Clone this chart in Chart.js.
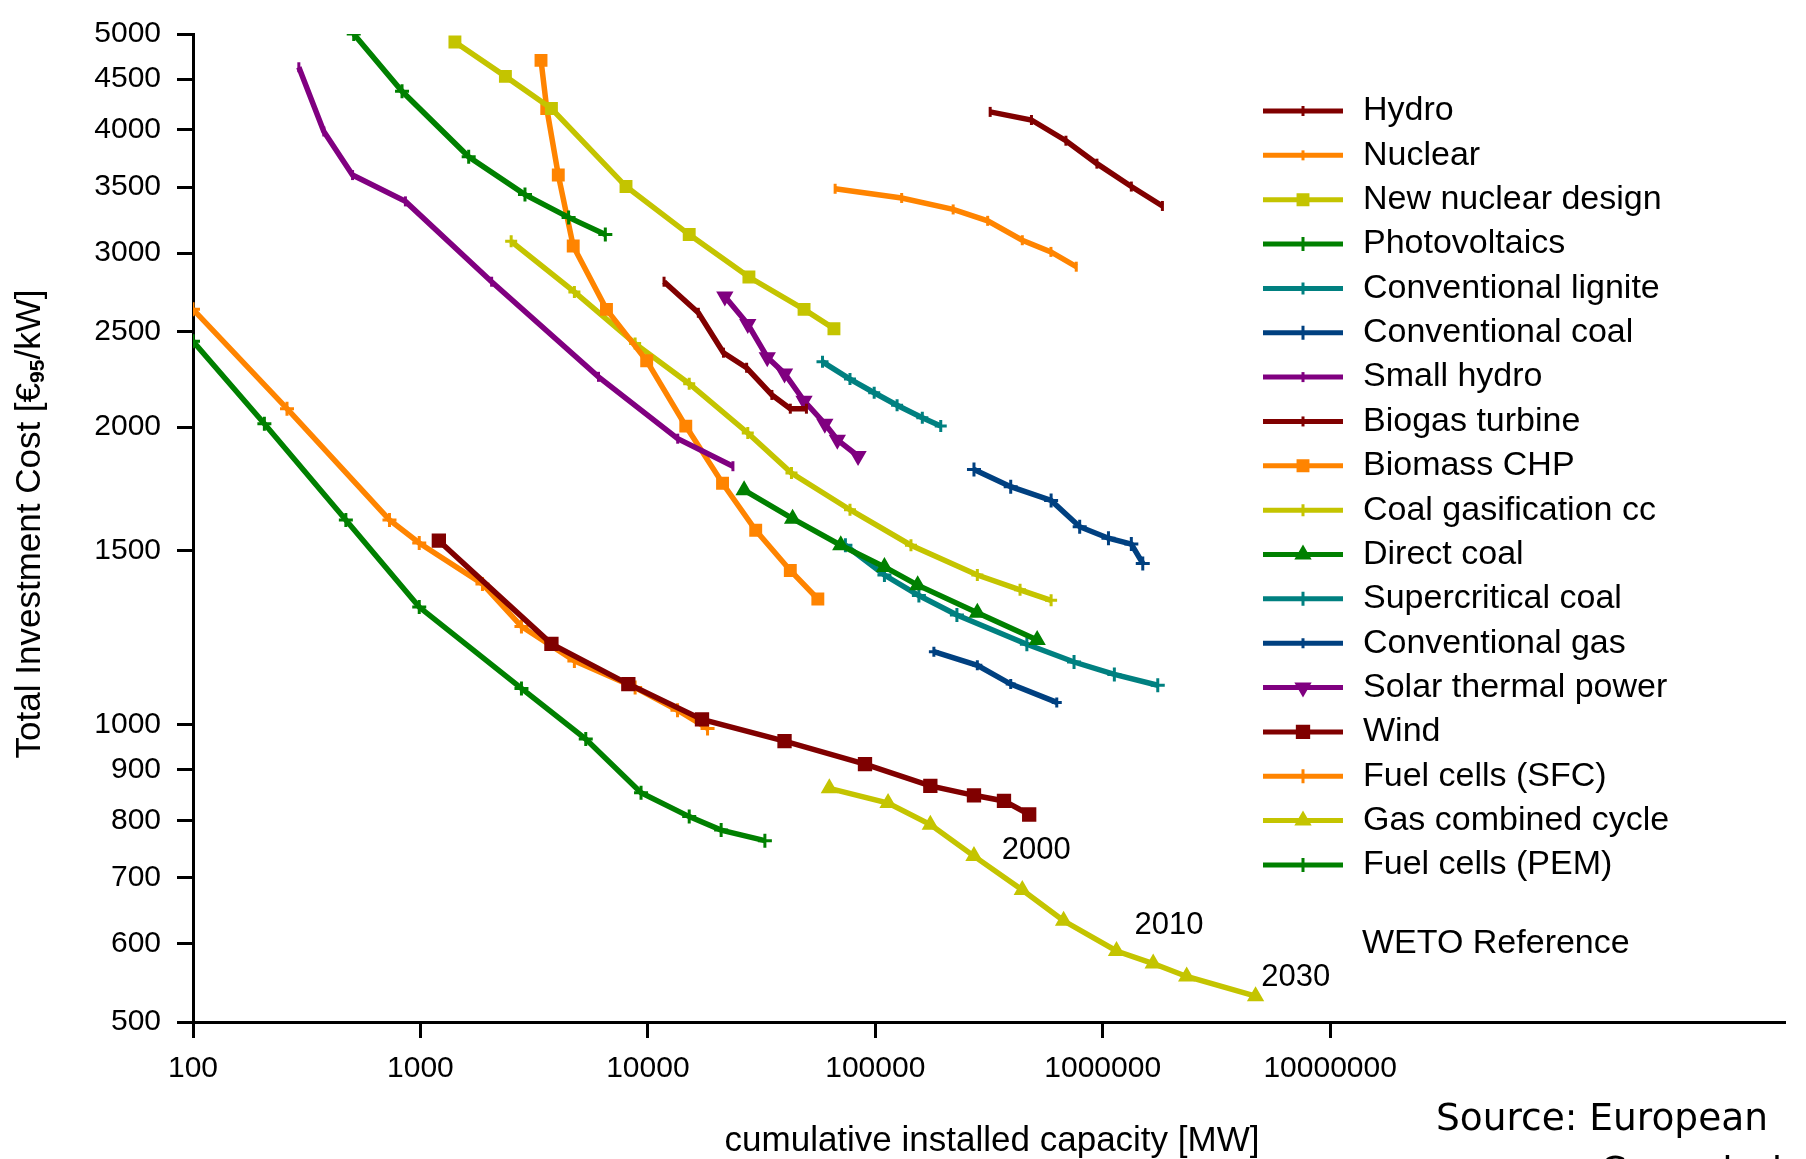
<!DOCTYPE html>
<html>
<head>
<meta charset="utf-8">
<script src="https://cdn.jsdelivr.net/npm/chart.js@4.4.1/dist/chart.umd.min.js"></script>
<style>
  html, body { margin: 0; padding: 0; background: #fff; }
</style>
</head>
<body>
<canvas id="myChart" width="1806" height="1159"></canvas>
<script>
// tick values / labels
const xTicks = [100, 1000, 10000, 100000, 1000000, 10000000];
const xTickLabels = ['100', '1000', '10000', '100000', '1000000', '10000000'];
const yTicks = [500, 600, 700, 800, 900, 1000, 1500, 2000, 2500, 3000, 3500, 4000, 4500, 5000];
const yTickLabels = ['500', '600', '700', '800', '900', '1000', '1500', '2000', '2500', '3000', '3500', '4000', '4500', '5000'];

// series (x = cumulative installed capacity MW, y = investment cost)
const hydroX = [320000, 486000, 689000, 943000, 1336000, 1830000];
const hydroY = [4170, 4092, 3899, 3696, 3504, 3349];
const nuclearX = [66600, 130600, 220000, 312000, 443000, 592000, 765000];
const nuclearY = [3486, 3412, 3322, 3235, 3092, 3009, 2907];
const newNuclearX = [1418, 2364, 3767, 8016, 15200, 27820, 48620, 65800];
const newNuclearY = [4908, 4530, 4203, 3504, 3133, 2838, 2632, 2516];
const pvX = [509, 830, 1630, 2882, 4482, 6501];
const pvY = [5000, 4375, 3756, 3439, 3261, 3133];
const ligniteX = [58600, 77400, 98900, 124700, 161000, 194000];
const ligniteY = [2329, 2237, 2167, 2105, 2044, 2005];
const coalX = [271600, 394000, 593000, 792000, 1060000, 1336000, 1500000];
const coalY = [1812, 1741, 1686, 1586, 1544, 1523, 1456];
const smallHydroX = [292, 376, 503, 859, 2056, 6066, 13530, 23660];
const smallHydroY = [4627, 3984, 3599, 3385, 2807, 2249, 1947, 1826];
const biogasX = [11780, 16670, 21500, 27180, 35100, 42300, 49800];
const biogasY = [2807, 2611, 2379, 2297, 2156, 2088, 2088];
const biomassX = [3390, 3593, 4038, 4697, 6577, 9882, 14680, 21300, 29800, 42300, 55900];
const biomassY = [4702, 4203, 3599, 3051, 2632, 2335, 2005, 1755, 1573, 1432, 1340];
const coalGasX = [2506, 4753, 8790, 15200, 27500, 42800, 77400, 143500, 281000, 433000, 593000];
const coalGasY = [3084, 2741, 2430, 2213, 1973, 1797, 1650, 1519, 1417, 1369, 1336];
const directCoalX = [26500, 43300, 70500, 109700, 153600, 281000, 515000];
const directCoalY = [1727, 1616, 1519, 1444, 1384, 1298, 1218];
const superCoalX = [73900, 109700, 155500, 228500, 464000, 748000, 1125000, 1746000];
const superCoalY = [1519, 1417, 1351, 1291, 1206, 1157, 1124, 1096];
const gasX = [181000, 281000, 394000, 628000];
const gasY = [1185, 1148, 1099, 1053];
const solarX = [21800, 27500, 33500, 39900, 48600, 60000, 68100, 84000];
const solarY = [2712, 2543, 2354, 2267, 2127, 2016, 1942, 1870];
const windX = [1205, 3767, 8206, 17300, 39900, 90100, 174600, 271600, 368000, 475000];
const windY = [1535, 1207, 1099, 1012, 962, 912, 867, 848, 837, 811];
const sfcX = [100, 259, 731, 988, 1874, 2781, 4753, 8790, 13500, 18300];
const sfcY = [2632, 2088, 1611, 1527, 1388, 1257, 1160, 1090, 1034, 991];
const gccX = [62800, 113800, 174600, 271600, 443000, 673000, 1150000, 1667000, 2340000, 4700000];
const gccY = [862, 833, 792, 736, 680, 633, 590, 573, 556, 531];
const pemX = [100, 206, 470, 988, 2781, 5333, 9333, 15200, 21000, 32700];
const pemY = [2443, 2016, 1611, 1315, 1088, 967, 853, 807, 782, 763];

const seriesNames = ['Hydro', 'Nuclear', 'New nuclear design', 'Photovoltaics', 'Conventional lignite',
  'Conventional coal', 'Small hydro', 'Biogas turbine', 'Biomass CHP', 'Coal gasification cc',
  'Direct coal', 'Supercritical coal', 'Conventional gas', 'Solar thermal power', 'Wind',
  'Fuel cells (SFC)', 'Gas combined cycle', 'Fuel cells (PEM)'];
const seriesX = [hydroX, nuclearX, newNuclearX, pvX, ligniteX, coalX, smallHydroX, biogasX, biomassX,
  coalGasX, directCoalX, superCoalX, gasX, solarX, windX, sfcX, gccX, pemX];
const seriesY = [hydroY, nuclearY, newNuclearY, pvY, ligniteY, coalY, smallHydroY, biogasY, biomassY,
  coalGasY, directCoalY, superCoalY, gasY, solarY, windY, sfcY, gccY, pemY];

// year labels along the gas combined cycle curve
const yearLabels = ['2000', '2010', '2030'];
const yearX = [360000, 1380000, 4980000];
const yearY = [746, 626, 555];

const RED = '#800000', ORANGE = '#FF8400', OLIVE = '#C4C400', GREEN = '#008000',
      TEAL = '#008080', BLUE = '#004080', PURPLE = '#800080';
const colors = [RED, ORANGE, OLIVE, GREEN, TEAL, BLUE, PURPLE, RED, ORANGE, OLIVE,
  GREEN, TEAL, BLUE, PURPLE, RED, ORANGE, OLIVE, GREEN];
const markers = [
  { style: 'line', rot: 90, r: 5 },   // Hydro
  { style: 'line', rot: 90, r: 5 },   // Nuclear
  { style: 'rect', rot: 0, r: 7 },    // New nuclear
  { style: 'cross', rot: 0, r: 7 },   // PV
  { style: 'cross', rot: 0, r: 6 },   // lignite
  { style: 'cross', rot: 0, r: 7 },   // coal
  { style: 'line', rot: 90, r: 5 },   // small hydro
  { style: 'line', rot: 90, r: 5 },   // biogas
  { style: 'rect', rot: 0, r: 7 },    // biomass
  { style: 'cross', rot: 0, r: 6 },   // coal gas
  { style: 'triangle', rot: 0, r: 7 },// direct coal
  { style: 'cross', rot: 0, r: 7 },   // supercritical
  { style: 'cross', rot: 0, r: 5 },   // gas
  { style: 'triangle', rot: 180, r: 7 }, // solar thermal
  { style: 'rect', rot: 0, r: 8 },    // wind
  { style: 'cross', rot: 0, r: 7 },   // sfc
  { style: 'triangle', rot: 0, r: 7 },// gcc
  { style: 'cross', rot: 0, r: 7 }    // pem
];

const FONT = '"Liberation Sans", Arial, sans-serif';

const datasets = seriesNames.map((name, i) => ({
  label: name,
  data: seriesX[i].map((v, j) => ({ x: v, y: seriesY[i][j] })),
  borderColor: colors[i],
  backgroundColor: colors[i],
  borderWidth: 5.5,
  pointStyle: markers[i].style,
  pointRotation: markers[i].rot,
  pointRadius: markers[i].r,
  pointBorderWidth: 3,
  pointHoverRadius: markers[i].r,
  tension: 0,
  fill: false
}));

// legend, axis titles and notes drawn on top
const extrasPlugin = {
  id: 'extras',
  afterDraw(chart) {
    const ctx = chart.ctx;
    const xs = chart.scales.x, ys = chart.scales.y;
    ctx.save();

    // legend column
    chart.data.datasets.forEach((ds, i) => {
      const y = 111 + i * 44.35;
      ctx.strokeStyle = ds.borderColor;
      ctx.fillStyle = ds.backgroundColor;
      ctx.lineWidth = 5;
      ctx.beginPath();
      ctx.moveTo(1263, y);
      ctx.lineTo(1343, y);
      ctx.stroke();
      ctx.lineWidth = 3;
      if (Chart.helpers && Chart.helpers.drawPoint) {
        Chart.helpers.drawPoint(ctx, { pointStyle: ds.pointStyle, rotation: ds.pointRotation,
          radius: ds.pointRadius, borderWidth: 3 }, 1303, y);
      }
      ctx.fillStyle = '#000';
      ctx.font = '34px ' + FONT;
      ctx.textAlign = 'left';
      ctx.textBaseline = 'middle';
      ctx.fillText(ds.label, 1363, y);
    });
    ctx.fillText('WETO Reference', 1362, 944);

    // year labels
    ctx.font = '31px ' + FONT;
    yearLabels.forEach((t, i) => {
      ctx.fillText(t, xs.getPixelForValue(yearX[i]), ys.getPixelForValue(yearY[i]));
    });

    // x title
    ctx.font = '35px ' + FONT;
    ctx.textAlign = 'center';
    ctx.fillText('cumulative installed capacity [MW]', 992, 1141);

    // y title with subscript
    ctx.translate(30, 524);
    ctx.rotate(-Math.PI / 2);
    const a = 'Total Investment Cost [€', sub = '95', b = '/kW]';
    ctx.font = '35px ' + FONT;
    const wa = ctx.measureText(a).width, wb = ctx.measureText(b).width;
    ctx.font = 'bold 21px ' + FONT;
    const ws = ctx.measureText(sub).width;
    let x0 = -(wa + ws + wb) / 2;
    ctx.textAlign = 'left';
    ctx.font = '35px ' + FONT;
    ctx.fillText(a, x0, 0);
    ctx.font = 'bold 21px ' + FONT;
    ctx.fillText(sub, x0 + wa, 8);
    ctx.font = '35px ' + FONT;
    ctx.fillText(b, x0 + wa + ws, 0);
    ctx.restore();

    // source note
    ctx.save();
    ctx.fillStyle = '#000';
    ctx.font = '37.5px "DejaVu Sans", sans-serif';
    ctx.textAlign = 'left';
    ctx.textBaseline = 'middle';
    ctx.fillText('Source: European', 1436, 1120);
    ctx.fillText('Commission', 1600, 1173);
    ctx.restore();
  }
};

const tickFont = { family: FONT, size: 30 };

const config = {
  type: 'line',
  data: { datasets: datasets },
  options: {
    responsive: false,
    animation: false,
    layout: { padding: { top: 29, right: 21, left: 0, bottom: 0 } },
    plugins: {
      legend: { display: false },
      tooltip: { enabled: false }
    },
    scales: {
      x: {
        type: 'logarithmic',
        min: 100,
        max: 1000000000,
        afterBuildTicks: s => { s.ticks = xTicks.map(v => ({ value: v })); },
        afterFit: s => { s.height = 137; },
        border: { color: '#000', width: 3 },
        grid: { drawOnChartArea: false, drawTicks: true, tickLength: 16, tickColor: '#000', tickWidth: 3 },
        ticks: { color: '#000', font: tickFont, padding: 13, maxRotation: 0, autoSkip: false,
                 callback: (v, i) => xTickLabels[i] }
      },
      y: {
        type: 'logarithmic',
        min: 500,
        max: 5000,
        afterBuildTicks: s => { s.ticks = yTicks.map(v => ({ value: v })); },
        afterFit: s => { s.width = 193; },
        border: { color: '#000', width: 3 },
        grid: { drawOnChartArea: false, drawTicks: true, tickLength: 16, tickColor: '#000', tickWidth: 3 },
        ticks: { color: '#000', font: tickFont, padding: 16, autoSkip: false,
                 callback: (v, i) => yTickLabels[i] }
      }
    }
  },
  plugins: [extrasPlugin]
};

const ctx = document.getElementById('myChart').getContext('2d');
const myChart = new Chart(ctx, config);
</script>
</body>
</html>
